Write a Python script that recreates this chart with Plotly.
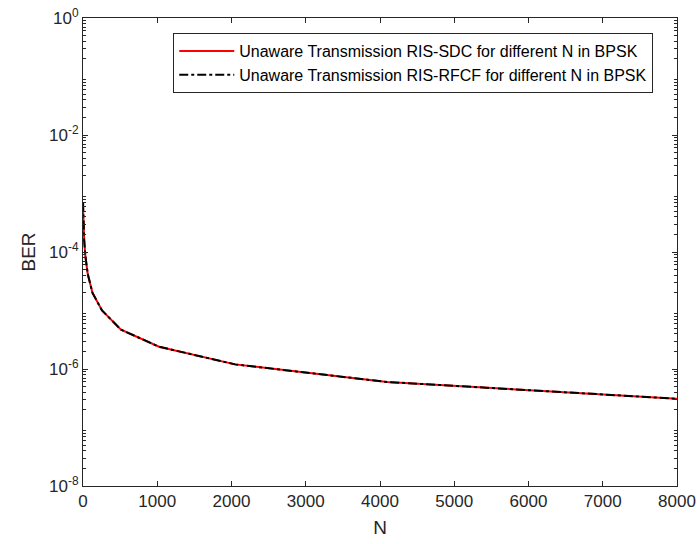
import plotly.graph_objects as go

# Data
N_vals = [1, 2, 4, 8, 16, 32, 64, 128, 256, 512, 1024, 2048, 4096, 8192]
ber_sdc = [5.6e-4, 4.6e-4, 3.6e-4, 2.6e-4, 1.6e-4, 8.5e-5, 4.2e-5, 2.0e-5, 1.0e-5,
           4.7e-6, 2.4e-6, 1.2e-6, 6.0e-7, 3.0e-7]
ber_rfcf = [7.0e-4, 5.2e-4, 3.8e-4, 2.7e-4, 1.6e-4, 8.5e-5, 4.2e-5, 2.0e-5, 1.0e-5,
            4.7e-6, 2.4e-6, 1.2e-6, 6.0e-7, 3.0e-7]

x_ticks = [0, 1000, 2000, 3000, 4000, 5000, 6000, 7000, 8000]
y_tick_exps = [0, -2, -4, -6, -8]

font_family = "Liberation Sans, Arial, sans-serif"

fig = go.Figure()
fig.add_trace(go.Scatter(
    x=N_vals, y=ber_sdc, mode="lines",
    name="Unaware Transmission RIS-SDC for different N in BPSK",
    line=dict(color="#ff0000", width=2)))
fig.add_trace(go.Scatter(
    x=N_vals, y=ber_rfcf, mode="lines",
    name="Unaware Transmission RIS-RFCF for different N in BPSK",
    line=dict(color="#000000", width=2, dash="dashdot")))

minor_vals = [m * 10.0 ** k for k in range(-8, 0) for m in range(2, 10)]

fig.update_layout(
    width=697, height=544,
    margin=dict(l=83, r=20, t=18, b=58),
    paper_bgcolor="white", plot_bgcolor="white",
    font=dict(family=font_family, size=17, color="#262626"),
    showlegend=True,
    legend=dict(
        x=0.96, y=0.968, xanchor="right", yanchor="top",
        bgcolor="white", bordercolor="#262626", borderwidth=1,
        font=dict(size=16, color="#000000"),
        itemwidth=55, tracegroupgap=0,
    ),
    xaxis=dict(
        range=[0, 8000], tickvals=x_ticks, ticktext=[str(v) for v in x_ticks],
        ticks="inside", ticklen=5, tickcolor="#262626",
        showline=True, linecolor="#262626", linewidth=1, mirror="ticks",
        showgrid=False, zeroline=False, automargin=False,
        title=dict(text="N", font=dict(size=19), standoff=10),
    ),
    yaxis=dict(
        type="log", range=[-8, 0],
        tickvals=[10.0 ** e for e in y_tick_exps],
        ticktext=["10<sup>%d</sup>" % e for e in y_tick_exps],
        ticks="inside", ticklen=5, tickcolor="#262626",
        minor=dict(tickvals=minor_vals, ticks="inside", ticklen=3, tickcolor="#262626"),
        showline=True, linecolor="#262626", linewidth=1, mirror="ticks",
        showgrid=False, zeroline=False, automargin=False,
        ticklabeloverflow="allow",
        title=dict(text="BER", font=dict(size=19), standoff=8),
    ),
)

fig.write_html(
    "out.html",
    config={"displayModeBar": False},
    post_script="document.body.style.margin='0';document.body.style.overflow='hidden';",
)
